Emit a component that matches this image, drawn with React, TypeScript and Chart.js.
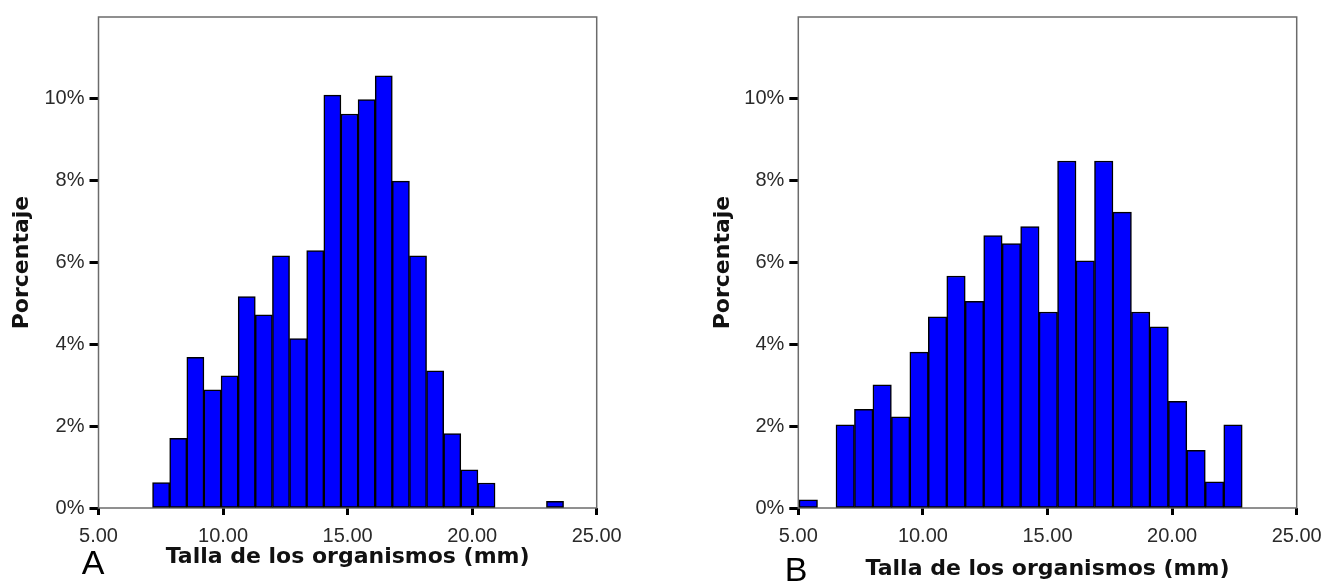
import React, { useEffect, useRef } from "react";
import { Chart, registerables } from "chart.js";

Chart.register(...registerables);

// Panel A: size-class histogram (percent of organisms per bin)
const A_BIN_START = 7.17;
const A_BIN_WIDTH = 0.6875;
const A_PERCENT: (number | null)[] = [
  0.62, 1.7, 3.68, 2.89, 3.23, 5.17, 4.72, 6.16, 4.14, 6.29, 10.09, 9.63,
  9.98, 10.56, 7.99, 6.16, 3.35, 1.82, 0.93, 0.61, null, null, null, 0.16,
];

// Panel B
const B_BIN_START = 5.03;
const B_BIN_WIDTH = 0.741;
const B_PERCENT: (number | null)[] = [
  0.2, null, 2.03, 2.41, 3.01, 2.23, 3.81, 4.67, 5.67, 5.05, 6.66, 6.46, 6.88,
  4.79, 8.48, 6.04, 8.48, 7.23, 4.79, 4.43, 2.61, 1.41, 0.64, 2.03,
];

const X_TICKS = [5, 10, 15, 20, 25];
const Y_TICKS = [0, 2, 4, 6, 8, 10];
const X_MIN = 5;
const X_MAX = 25;
const Y_MAX = 12;
const X_TITLE = "Talla de los organismos (mm)";
const Y_TITLE = "Porcentaje";

const TICK_FONT = {
  family: "'Liberation Sans Narrow', 'Arial Narrow', 'Liberation Sans', Arial, sans-serif",
  size: 20,
};
const TITLE_FONT = { family: "'DejaVu Sans', Verdana, sans-serif", size: 22, weight: "bold" as const };

const CANVAS_W = 668;
const CANVAS_H = 588;

// Gray box around the plotting area
const framePlugin = {
  id: "frame",
  beforeDatasetsDraw(chart: any) {
    const { ctx, chartArea: a } = chart;
    ctx.save();
    ctx.strokeStyle = "#6b6b6b";
    ctx.lineWidth = 1.5;
    ctx.strokeRect(a.left, a.top, a.right - a.left, a.bottom - a.top);
    ctx.restore();
  },
};

// Panel letter (A / B) under the axis
const letterPlugin = {
  id: "panelLetter",
  afterDraw(chart: any, _args: any, opts: any) {
    const { ctx } = chart;
    ctx.save();
    ctx.fillStyle = "#000";
    ctx.font = "34px 'Liberation Sans Narrow', 'Arial Narrow', 'Liberation Sans', Arial, sans-serif";
    ctx.textAlign = "center";
    ctx.textBaseline = "middle";
    ctx.fillText(opts.text, opts.x, opts.y);
    ctx.restore();
  },
};

type PanelProps = {
  left: number;
  letter: string;
  letterX: number;
  letterY: number;
  binStart: number;
  binWidth: number;
  percent: (number | null)[];
  yAxisWidth: number;
  rightPad: number;
  yTitlePad: number;
  xTitlePad: number;
};

function HistogramPanel(p: PanelProps) {
  const ref = useRef<HTMLCanvasElement | null>(null);

  useEffect(() => {
    if (!ref.current) return;
    const points = p.percent
      .map((v, i) => ({ x: p.binStart + (i + 0.5) * p.binWidth, y: v }))
      .filter((d) => d.y !== null);

    const chart = new Chart(ref.current, {
      type: "bar",
      data: {
        datasets: [
          {
            data: points as any,
            backgroundColor: "#0000ff",
            borderColor: "#000000",
            borderWidth: 1.5,
            borderSkipped: false,
            barPercentage: 1,
            categoryPercentage: 1,
          },
        ],
      },
      options: {
        animation: false,
        responsive: false,
        maintainAspectRatio: false,
        events: [],
        layout: { padding: { top: 8, right: p.rightPad, left: 0, bottom: 0 } },
        plugins: {
          legend: { display: false },
          tooltip: { enabled: false },
          panelLetter: { text: p.letter, x: p.letterX, y: p.letterY },
        } as any,
        scales: {
          x: {
            type: "linear",
            position: "bottom",
            min: X_MIN,
            max: X_MAX,
            offset: false,
            afterBuildTicks: (s: any) => {
              s.ticks = X_TICKS.map((v) => ({ value: v }));
            },
            afterFit: (s: any) => {
              s.height = CANVAS_H - 508;
            },
            ticks: {
              callback: (v: any) => Number(v).toFixed(2),
              font: TICK_FONT,
              color: "#2a2a2a",
              padding: 9,
              maxRotation: 0,
              autoSkip: false,
            },
            grid: {
              offset: false,
              drawOnChartArea: false,
              drawTicks: true,
              tickLength: 7,
              tickWidth: 3,
              tickColor: "#000",
            },
            border: { display: false },
            title: {
              display: true,
              text: X_TITLE,
              font: TITLE_FONT,
              color: "#111",
              padding: { top: 0, bottom: p.xTitlePad },
            },
          },
          y: {
            type: "linear",
            min: 0,
            max: Y_MAX,
            afterBuildTicks: (s: any) => {
              s.ticks = Y_TICKS.map((v) => ({ value: v }));
            },
            afterFit: (s: any) => {
              s.width = p.yAxisWidth;
            },
            ticks: {
              callback: (v: any) => `${v}%`,
              font: TICK_FONT,
              color: "#2a2a2a",
              padding: 5,
            },
            grid: {
              drawOnChartArea: false,
              drawTicks: true,
              tickLength: 9,
              tickWidth: 3,
              tickColor: "#000",
            },
            border: { display: false },
            title: {
              display: true,
              text: Y_TITLE,
              font: TITLE_FONT,
              color: "#111",
              padding: { top: p.yTitlePad, bottom: 0 },
            },
          },
        },
      } as any,
      plugins: [framePlugin, letterPlugin],
    });
    return () => chart.destroy();
  }, []);

  return (
    <canvas
      ref={ref}
      width={CANVAS_W}
      height={CANVAS_H}
      style={{ position: "absolute", left: p.left, top: 0, width: CANVAS_W, height: CANVAS_H }}
    />
  );
}

export default function App() {
  return (
    <div style={{ position: "absolute", left: 0, top: 0, width: 1336, height: 588, background: "#fff" }}>
      <HistogramPanel
        left={0}
        letter="A"
        letterX={93}
        letterY={565}
        binStart={A_BIN_START}
        binWidth={A_BIN_WIDTH}
        percent={A_PERCENT}
        yAxisWidth={98.5}
        rightPad={CANVAS_W - 596.7}
        yTitlePad={9}
        xTitlePad={18}
      />
      <HistogramPanel
        left={668}
        letter="B"
        letterX={128}
        letterY={572}
        binStart={B_BIN_START}
        binWidth={B_BIN_WIDTH}
        percent={B_PERCENT}
        yAxisWidth={130.3}
        rightPad={CANVAS_W - 628.7}
        yTitlePad={42}
        xTitlePad={6}
      />
    </div>
  );
}
